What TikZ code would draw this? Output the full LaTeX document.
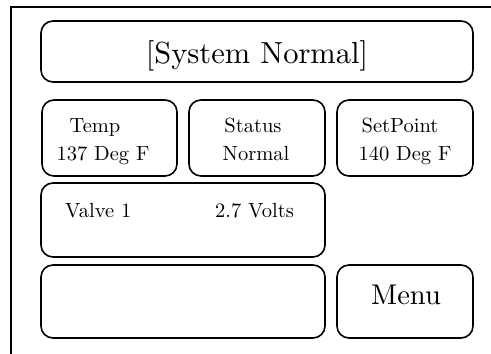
\documentclass[tikz,border=0pt]{standalone}
\newcommand{\smalltxt}[1]{\scalebox{2.05}{\fontsize{10}{12}\selectfont #1}}
\newcommand{\bigtxt}[2]{\scalebox{#1}{\fontsize{10}{12}\selectfont #2}}
\begin{document}
\begin{tikzpicture}[x=1pt,y=-1pt,
  panel/.style={draw, line width=1.6pt, rounded corners=12pt},
  lbl/.style={inner sep=0pt}]
\useasboundingbox (0,0) rectangle (491,354);
% outer frame
\coordinate (fb) at (11,354);
\coordinate (ftl) at (11,7);
\coordinate (fr) at (491,7);
\draw[line width=2.4pt] (fb) -- (ftl) -- (fr);
% panels
\draw[panel] (41,21) rectangle (473,82);
\draw[panel] (42,100) rectangle (177,176);
\draw[panel] (189,100) rectangle (325,176);
\draw[panel] (337,100) rectangle (473,176);
\draw[panel] (41,183) rectangle (325,257);
\draw[panel] (41,265) rectangle (325,338);
\draw[panel] (337,265) rectangle (473,338);
% texts
\node[lbl, anchor=base] (title) at (257,63) {\bigtxt{3.05}{[System Normal]}};
\node[lbl, anchor=base] (temp1) at (95,132) {\smalltxt{Temp}};
\node[lbl, anchor=base] (temp2) at (103,160) {\smalltxt{137 Deg F}};
\node[lbl, anchor=base] (stat1) at (253,132) {\smalltxt{Status}};
\node[lbl, anchor=base] (stat2) at (256,160) {\smalltxt{Normal}};
\node[lbl, anchor=base] (set1) at (400,132) {\smalltxt{SetPoint}};
\node[lbl, anchor=base] (set2) at (405,160) {\smalltxt{140 Deg F}};
\node[lbl, anchor=base west] (valve) at (65,217) {\smalltxt{Valve 1}};
\node[lbl, anchor=base west] (volts) at (215,217) {\smalltxt{2.7 Volts}};
\node[lbl, anchor=base] (menu) at (406,304) {\bigtxt{2.85}{Menu}};
\end{tikzpicture}
\end{document}
